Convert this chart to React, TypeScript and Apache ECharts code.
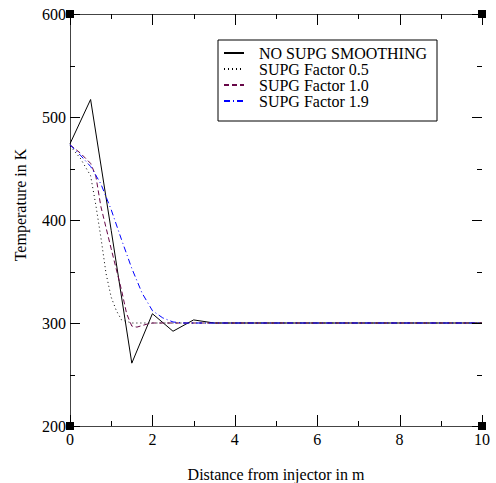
import React, { useEffect, useRef } from "react";
import * as echarts from "echarts";

const xNoSupg = [0, 0.5, 1, 1.5, 2, 2.5, 3, 3.5, 4, 10];
const tNoSupg = [474, 517, 390, 261, 309, 292, 303, 300, 300, 300];

const xSupg05 = [0, 0.25, 0.5, 0.625, 0.75, 0.875, 1, 1.125, 1.25, 1.5, 10];
const tSupg05 = [472, 460, 443, 415, 383, 348, 325, 312, 303, 300, 300];

const xSupg10 = [0, 0.25, 0.5, 0.625, 0.75, 1, 1.25, 1.375, 1.5, 1.625, 1.875, 2, 10];
const tSupg10 = [473, 465, 455, 443, 413, 372, 332, 309, 297, 296, 299, 300, 300];

const xSupg19 = [0, 0.25, 0.5, 0.75, 1, 1.25, 1.5, 1.75, 2, 2.25, 2.5, 2.75, 10];
const tSupg19 = [473, 463, 452, 435, 410, 381, 353, 329, 312, 305, 301, 300, 300];

const xMajorTicks = [0, 2, 4, 6, 8, 10];
const xMinorTicks = [1, 3, 5, 7, 9];
const yMajorTicks = [200, 300, 400, 500, 600];
const yMinorTicks = [250, 350, 450, 550];

const seriesNames = ["NO SUPG SMOOTHING", "SUPG Factor 0.5", "SUPG Factor 1.0", "SUPG Factor 1.9"];
const xTitle = "Distance from injector in m";
const yTitle = "Temperature in K";

const FONT = "'Liberation Serif', 'DejaVu Serif', serif";

function pairs(xs: number[], ys: number[]) {
  return xs.map((x, i) => [x, ys[i]]);
}

export default function App() {
  const ref = useRef<HTMLDivElement>(null);
  useEffect(() => {
    if (!ref.current) return;
    const chart = echarts.init(ref.current, undefined, { renderer: "svg" });
    const axisCommon = {
      axisTick: { show: false },
      minorTick: { show: false },
      splitLine: { show: false },
      minorSplitLine: { show: false },
    };
    const xBase = { type: "value", min: 0, max: 10, interval: 2, ...axisCommon };
    const yBase = { type: "value", min: 200, max: 600, interval: 100, ...axisCommon };
    chart.setOption({
      animation: false,
      backgroundColor: "#fff",
      textStyle: { fontFamily: FONT },
      grid: { left: 70, right: 14, top: 14, bottom: 57, containLabel: false, outerBoundsMode: "none" },
      legend: {
        orient: "vertical",
        left: 218,
        top: 40,
        width: 221,
        padding: [5, 10, 12, 5],
        itemGap: 0,
        itemWidth: 20,
        itemHeight: 15,
        borderColor: "#000",
        borderWidth: 1,
        backgroundColor: "#fff",
        data: seriesNames,
        itemStyle: { opacity: 0 },
        textStyle: { fontFamily: FONT, fontSize: 16, color: "#000", padding: [0, 0, 0, 10], lineHeight: 15 },
      },
      xAxis: [
        {
          ...xBase,
          position: "bottom",
          axisLine: { show: true, lineStyle: { color: "#444", width: 1 } },
          axisLabel: { show: true, margin: 5, fontFamily: FONT, fontSize: 16, color: "#000" },
          name: xTitle,
          nameLocation: "middle",
          nameGap: 40,
          nameTextStyle: { fontFamily: FONT, fontSize: 16, color: "#000" },
        },
        {
          ...xBase,
          position: "top",
          axisLine: { show: true, lineStyle: { color: "#444", width: 1 } },
          axisLabel: { show: false },
        },
      ],
      yAxis: [
        {
          ...yBase,
          position: "left",
          axisLine: { show: true, lineStyle: { color: "#000", width: 1 } },
          axisLabel: { show: true, margin: 4, fontFamily: FONT, fontSize: 16, color: "#000" },
        },
        {
          ...yBase,
          position: "right",
          axisLine: { show: true, lineStyle: { color: "#444", width: 1 } },
          axisLabel: { show: false },
        },
      ],
      series: [
        {
          name: seriesNames[0],
          type: "line",
          data: pairs(xNoSupg, tNoSupg),
          symbol: "none",
          lineStyle: { color: "#000", width: 1, type: "solid" },
          itemStyle: { color: "#000" },
        },
        {
          name: seriesNames[1],
          type: "line",
          data: pairs(xSupg05, tSupg05),
          symbol: "none",
          lineStyle: { color: "#000", width: 1, type: [1, 3] },
          itemStyle: { color: "#000" },
        },
        {
          name: seriesNames[2],
          type: "line",
          data: pairs(xSupg10, tSupg10),
          symbol: "none",
          lineStyle: { color: "#670748", width: 1, type: [5, 3] },
          itemStyle: { color: "#670748" },
        },
        {
          name: seriesNames[3],
          type: "line",
          data: pairs(xSupg19, tSupg19),
          symbol: "none",
          lineStyle: { color: "#0000ff", width: 1, type: [6, 3, 1, 3] },
          itemStyle: { color: "#0000ff" },
        },
      ],
    });

    const px = (v: number) => chart.convertToPixel({ xAxisIndex: 0 }, v) as number;
    const py = (v: number) => chart.convertToPixel({ yAxisIndex: 0 }, v) as number;
    const left = Math.round(px(0));
    const right = Math.round(px(10));
    const bottom = Math.round(py(200));
    const top = Math.round(py(600));
    const tickStyle = { stroke: "#000", lineWidth: 1 };
    const ticks: any[] = [];
    const addX = (vals: number[], len: number) => {
      vals.forEach((v) => {
        const x = Math.round(px(v)) + 0.5;
        ticks.push({ type: "line", shape: { x1: x, y1: bottom, x2: x, y2: bottom - len }, style: tickStyle, z: 50 });
        ticks.push({ type: "line", shape: { x1: x, y1: top, x2: x, y2: top + len }, style: tickStyle, z: 50 });
      });
    };
    const addY = (vals: number[], len: number) => {
      vals.forEach((v) => {
        const y = Math.round(py(v)) + 0.5;
        ticks.push({ type: "line", shape: { x1: left, y1: y, x2: left + len, y2: y }, style: tickStyle, z: 50 });
        ticks.push({ type: "line", shape: { x1: right, y1: y, x2: right - len, y2: y }, style: tickStyle, z: 50 });
      });
    };
    addX(xMajorTicks, 11);
    addX(xMinorTicks, 5);
    addY(yMajorTicks, 10);
    addY(yMinorTicks, 5);

    const corners = [
      [0, 200],
      [10, 200],
      [0, 600],
      [10, 600],
    ].map((c) => chart.convertToPixel({ gridIndex: 0 }, c) as number[]);
    const s = 8;
    chart.setOption({
      graphic: [
        ...ticks,
        ...corners.map((p) => ({
          type: "rect",
          shape: { x: Math.round(p[0]) - s / 2, y: Math.round(p[1]) - s / 2, width: s, height: s },
          style: { fill: "#000" },
          z: 100,
        })),
        {
          type: "text",
          x: 20,
          y: 205,
          rotation: Math.PI / 2,
          style: {
            text: yTitle,
            fontFamily: FONT,
            fontSize: 16,
            fill: "#000",
            align: "center",
            verticalAlign: "middle",
          },
        },
      ],
    });
    return () => chart.dispose();
  }, []);
  return (
    <div
      ref={ref}
      style={{ position: "fixed", left: 0, top: 0, width: 496, height: 483, background: "#fff" }}
    />
  );
}
